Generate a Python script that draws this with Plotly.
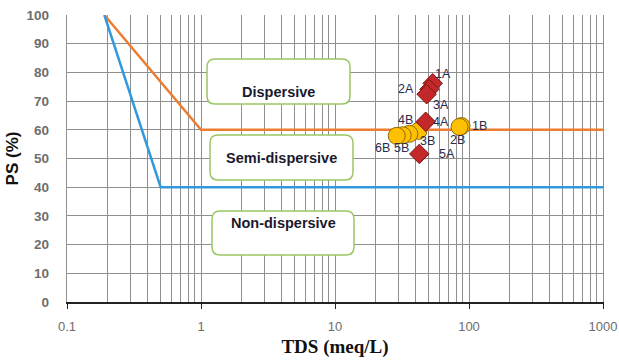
import math
import plotly.graph_objects as go

# Classification boundaries (TDS in meq/L, PS in %)
dispersive_x = [0.19, 1.0, 1000]
dispersive_y = [100, 60, 60]
nondisp_x = [0.19, 0.5, 1000]
nondisp_y = [100, 40, 40]

# Sample series A
a_labels = ["1A", "2A", "3A", "4A", "5A"]
a_tds = [53.6, 50.6, 48.3, 47.5, 42.6]
a_ps = [76.2, 74.1, 72.4, 62.8, 51.6]

# Sample series B
b_labels = ["1B", "2B", "3B", "4B", "5B", "6B"]
b_tds = [88.0, 85.0, 41.9, 35.9, 32.0, 28.9]
b_ps = [61.3, 61.0, 59.6, 58.6, 58.1, 57.9]

x_major = [0.1, 1, 10, 100, 1000]
x_major_text = ["0.1", "1", "10", "100", "1000"]
x_minor = [m * 10 ** e for e in range(-1, 3) for m in range(2, 10)]
y_ticks = list(range(0, 101, 10))

zone_names = ["Dispersive", "Semi-dispersive", "Non-dispersive"]

W, H = 619, 362
L, R, T, B = 67, 16, 15, 60
PW, PH = W - L - R, H - T - B

# pixel offsets of each data label from its marker
a_shift = [(10, -9), (-23, 0), (14, 11), (15, 0), (28, 0)]
b_shift = [(18, 0), (-2, 13), (9, 10), (-4, -14), (-1, 13), (-14, 12)]


def px(x):
    return (x - L) / PW


def py(y):
    return (H - B - y) / PH


def rounded_box(x0, y0, x1, y1, r=8):
    rx, ry = r / PW, r / PH
    a, b, c, d = px(x0), py(y1), px(x1), py(y0)  # left, bottom, right, top
    return (f"M {a+rx},{b} L {c-rx},{b} Q {c},{b} {c},{b+ry} "
            f"L {c},{d-ry} Q {c},{d} {c-rx},{d} L {a+rx},{d} "
            f"Q {a},{d} {a},{d-ry} L {a},{b+ry} Q {a},{b} {a+rx},{b} Z")


boxes = [(207, 59, 350, 104), (210, 135, 353, 180), (212, 211, 354, 255)]

fig = go.Figure()

fig.add_trace(go.Scatter(x=dispersive_x, y=dispersive_y, mode="lines",
                         line=dict(color="#ED7D31", width=2.5), showlegend=False))
fig.add_trace(go.Scatter(x=nondisp_x, y=nondisp_y, mode="lines",
                         line=dict(color="#3399DD", width=2.5), showlegend=False))

fig.add_trace(go.Scatter(x=b_tds, y=b_ps, mode="markers",
                         marker=dict(symbol="circle", size=17, color="#FFC000",
                                     line=dict(color="#8C6A10", width=1)),
                         showlegend=False))
fig.add_trace(go.Scatter(x=a_tds, y=a_ps, mode="markers",
                         marker=dict(symbol="diamond", size=15, color="#C3282B",
                                     line=dict(color="#7A1414", width=1)),
                         showlegend=False))

label_font = dict(family="Liberation Sans, Arial, sans-serif", size=12.5, color="#2b2b4b")

shapes = []
annotations = []
for (x0, y0, x1, y1), name in zip(boxes, zone_names):
    shapes.append(dict(type="path", xref="paper", yref="paper",
                       path=rounded_box(x0, y0, x1, y1),
                       fillcolor="white", line=dict(color="#9BC765", width=1.5),
                       layer="above"))
    annotations.append(dict(xref="paper", yref="paper",
                            x=px((x0 + x1) / 2), y=py((y0 + y1) / 2),
                            text=f"<b>{name}</b>", showarrow=False,
                            font=dict(family="Liberation Sans, Arial, sans-serif",
                                      size=14.5, color="#1a1a2e")))

for xs, ys, labels, shifts in [(a_tds, a_ps, a_labels, a_shift),
                               (b_tds, b_ps, b_labels, b_shift)]:
    for xv, yv, lab, (dx, dy) in zip(xs, ys, labels, shifts):
        annotations.append(dict(x=math.log10(xv), y=yv, xref="x", yref="y",
                                text=lab, showarrow=False, font=label_font,
                                xshift=dx, yshift=-dy))

grid = "#8f8f8f"

fig.update_layout(
    width=W, height=H,
    margin=dict(l=L, r=R, t=T, b=B, autoexpand=False),
    paper_bgcolor="white", plot_bgcolor="white",
    shapes=shapes, annotations=annotations,
    xaxis=dict(
        type="log", range=[-1, 3], automargin=False,
        tickvals=x_major, ticktext=x_major_text,
        ticks="outside", ticklen=5, tickcolor="#222", ticklabelstandoff=7,
        showgrid=True, gridcolor=grid, gridwidth=1.4,
        minor=dict(tickvals=x_minor, showgrid=True, gridcolor=grid,
                   gridwidth=1.4, ticks=""),
        showline=True, linecolor="#222", linewidth=1.5,
        mirror=False, zeroline=False,
        tickfont=dict(family="Liberation Sans, Arial, sans-serif", size=13, color="#6e6e6e"),
        title=dict(text="<b>TDS (meq/L)</b>", standoff=6,
                   font=dict(family="Liberation Serif, Times New Roman, serif", size=19, color="#111")),
    ),
    yaxis=dict(
        range=[0, 100], automargin=False,
        tickvals=y_ticks, ticktext=[f"<b>{v}</b>" for v in y_ticks],
        showgrid=True, gridcolor=grid, gridwidth=1.4,
        showline=True, linecolor=grid, linewidth=1.4, mirror=True,
        zeroline=False, ticks="", ticklabelstandoff=14,
        tickfont=dict(family="Liberation Sans, Arial, sans-serif", size=13.5, color="#6e6e6e"),
        title=dict(text="<b>PS (%)</b>", standoff=3,
                   font=dict(family="Liberation Sans, Arial, sans-serif", size=17, color="#111")),
    ),
)

fig.write_html("out.html")
